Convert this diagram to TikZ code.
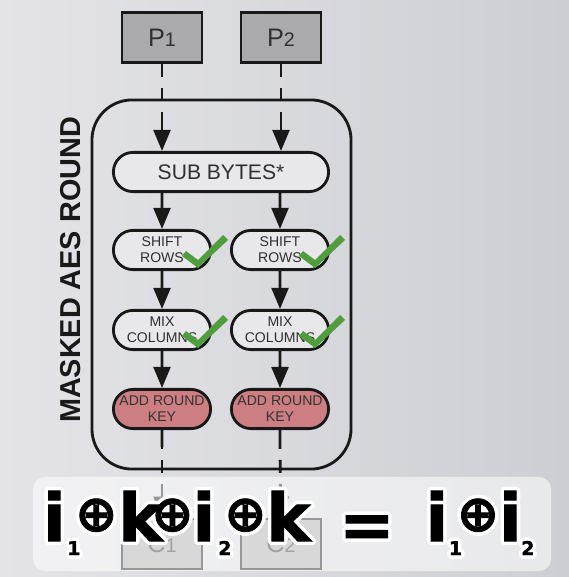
\documentclass[tikz,border=0pt]{standalone}
\usepackage{fontspec}
\setmainfont{Liberation Sans}
\newfontfamily\eqfont{DejaVu Sans}[BoldFeatures={FakeBold=1.5}]
\usepackage{contour}
\contourlength{2.4pt}
\contournumber{32}
\usetikzlibrary{arrows.meta,positioning,shapes.misc}

\definecolor{bgleft}{RGB}{228,228,232}
\definecolor{bgright}{RGB}{205,206,211}
\definecolor{blockgray}{RGB}{170,170,172}
\definecolor{pillfill}{RGB}{232,232,235}
\definecolor{keypink}{RGB}{204,126,130}
\definecolor{tickgreen}{RGB}{80,156,62}
\definecolor{inkgray}{RGB}{48,48,50}

\newcommand\blocklabel[2]{#1{\fontsize{14}{14}\selectfont #2}}
% one glyph of the caption, centred, then the step to the next one
\newcommand\eqglyph[2]{\makebox[0pt]{#2}\kern#1}
\newcommand\eqsub[1]{\raisebox{-10pt}{\fontsize{13.5}{13.5}\selectfont #1}}
\newcommand\eqop{\raisebox{7pt}{\fontsize{36}{36}\selectfont ⊕}}
\newcommand\eqeq{\raisebox{-4.6pt}{=}}

\tikzset{
  aes-block/.style={draw=black!90, fill=blockgray, line width=2pt, minimum width=2cm, minimum height=1.25cm,
    text=inkgray, font=\fontsize{18}{18}\selectfont},
  aes-frame/.style={draw=black!90, line width=2pt, rounded corners=1cm},
  aes-op/.style={rounded rectangle, draw=black!90, fill=pillfill, line width=2pt, minimum height=0.98cm,
    inner sep=1pt, align=center, text=inkgray, font=\fontsize{10}{11.4}\selectfont},
  aes-key/.style={aes-op, fill=keypink, text=black!80},
  aes-flow/.style={line width=2pt, draw=black!90},
  aes-dash/.style={aes-flow, dash pattern=on 9.2pt off 7.8pt},
  aes-panel/.style={fill=white, fill opacity=0.55, rounded corners=0.3cm, inner sep=0pt},
  aes-label/.style={font=\bfseries\fontsize{20.5}{20.5}\selectfont, text=black!90},
  aes-caption/.style={inner sep=0pt, font=\eqfont\bfseries\fontsize{47}{47}\selectfont},
  pics/aes-tick/.style={code={
    \fill[tickgreen] (-16,-9) -- (0,3) -- (30,-25) -- (25,-30) -- (0,-5) -- (-12,-14) -- cycle;}}
}

\begin{document}
\begin{tikzpicture}[x=0.025cm, y=-0.025cm, >={Triangle[length=15pt,width=12pt]}]
  \useasboundingbox (0,0) rectangle (569,577);
  \shade[left color=bgleft, right color=bgright] (0,0) rectangle (569,577);

  % plaintext inputs
  \node[aes-block] (p1) at (162,37.5) {\blocklabel{P}{1}};
  \node[aes-block] (p2) at (281,37.5) {\blocklabel{P}{2}};

  % the round
  \node[aes-frame, minimum width=6.475cm, minimum height=9.225cm] (round) at (221.5,284.5) {};
  \node[aes-label, rotate=90] (roundname) at (71,270) {MASKED AES ROUND};

  \node[aes-op, minimum width=5.45cm, font=\fontsize{15}{15}\selectfont] (sub) at (221,172) {SUB BYTES*};
  \node[aes-op, minimum width=2.5cm] (s1) at (162,250) {SHIFT\\ROWS};
  \node[aes-op, minimum width=2.5cm] (s2) at (280,250) {SHIFT\\ROWS};
  \node[aes-op, minimum width=2.5cm] (m1) at (162,330) {MIX\\COLUMNS};
  \node[aes-op, minimum width=2.5cm] (m2) at (280,330) {MIX\\COLUMNS};
  \node[aes-key, minimum width=2.5cm] (k1) at (162,409) {ADD ROUND\\KEY};
  \node[aes-key, minimum width=2.5cm] (k2) at (280,409) {ADD ROUND\\KEY};

  \coordinate (in1) at (162,113);
  \coordinate (in2) at (281,113);
  \draw[aes-dash] (p1) -- (in1);
  \draw[aes-dash] (p2) -- (in2);
  \draw[aes-flow, ->] (in1) -- (p1 |- sub.north);
  \draw[aes-flow, ->] (in2) -- (p2 |- sub.north);
  \draw[aes-flow, ->] (s1 |- sub.south) -- (s1);
  \draw[aes-flow, ->] (s2 |- sub.south) -- (s2);
  \draw[aes-flow, ->] (s1) -- (m1);
  \draw[aes-flow, ->] (s2) -- (m2);
  \draw[aes-flow, ->] (m1) -- (k1);
  \draw[aes-flow, ->] (m2) -- (k2);

  \pic at (198,265) {aes-tick};
  \pic at (315,265) {aes-tick};
  \pic at (198,345) {aes-tick};
  \pic at (315,345) {aes-tick};

  % ciphertext outputs
  \node[aes-block] (c1) at (162,544) {\blocklabel{C}{1}};
  \node[aes-block] (c2) at (281,544) {\blocklabel{C}{2}};
  \coordinate (out1) at (162,447);
  \coordinate (out2) at (280,447);
  \draw[aes-flow] (k1) -- (out1);
  \draw[aes-flow] (k2) -- (out2);
  \draw[aes-dash, dash phase=7.8pt, ->] (out1) -- (c1);
  \draw[aes-dash, dash phase=7.8pt, ->] (out2) -- (c2);

  % caption over the bottom
  \node[aes-panel, minimum width=12.95cm, minimum height=2.35cm] (panel) at (292,524) {};
  \node[aes-caption, anchor=base west] (eq) at (54,541)
    {\contour{white}{\eqglyph{13.9pt}{i}\eqglyph{16pt}{\eqsub{1}}\eqglyph{31.3pt}{\eqop}\eqglyph{22.8pt}{k}%
      \eqglyph{22.4pt}{\eqop}\eqglyph{14.9pt}{i}\eqglyph{14.6pt}{\eqsub{2}}\eqglyph{30.6pt}{\eqop}%
      \eqglyph{55.8pt}{k}\eqglyph{49.8pt}{\eqeq}\eqglyph{13.2pt}{i}\eqglyph{16pt}{\eqsub{1}}%
      \eqglyph{23.1pt}{\eqop}\eqglyph{12.4pt}{i}\eqglyph{0pt}{\eqsub{2}}}};
\end{tikzpicture}
\end{document}
